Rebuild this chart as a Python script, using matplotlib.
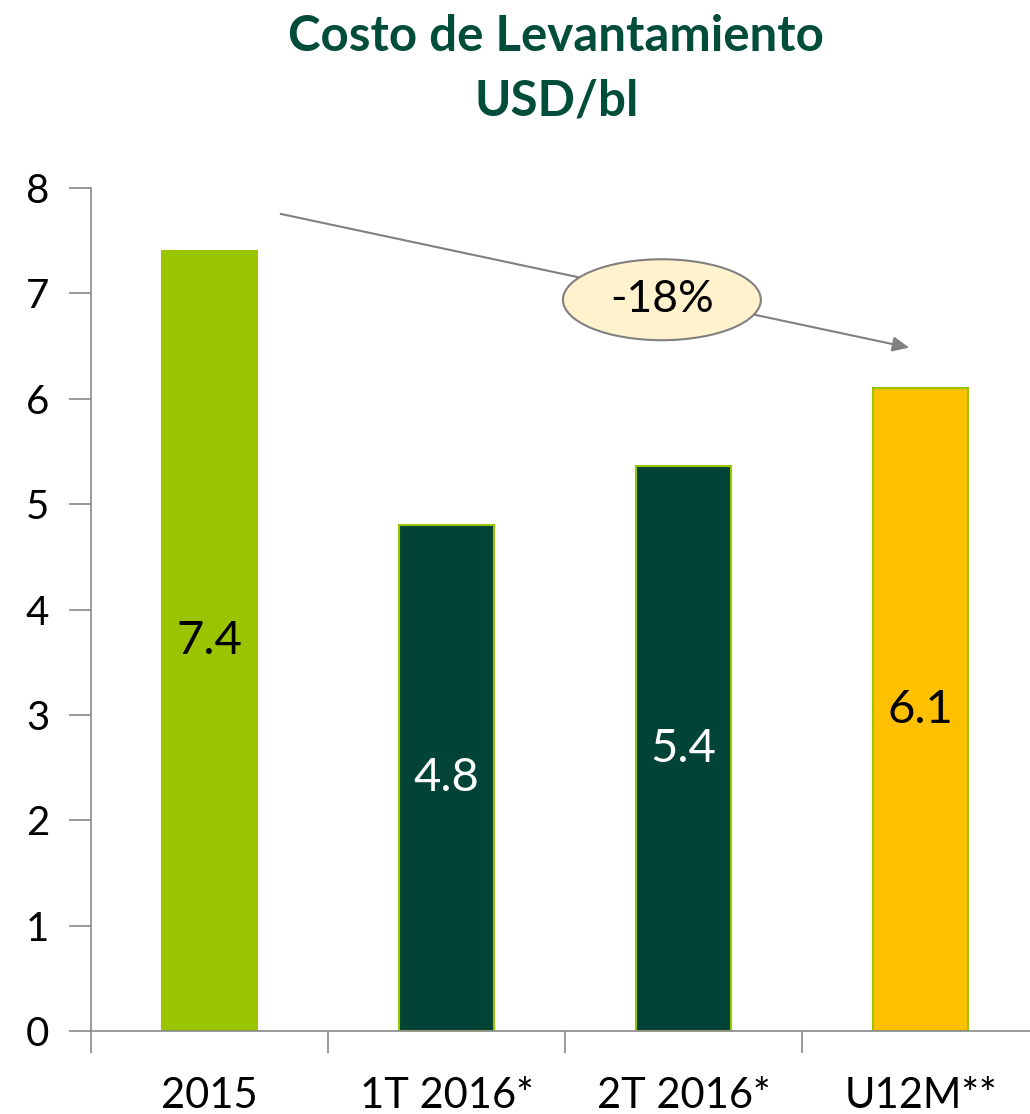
import matplotlib
matplotlib.use("Agg")
import matplotlib.pyplot as plt
from matplotlib.patches import Ellipse

categorias = ["2015", "1T 2016*", "2T 2016*", "U12M**"]
valores = [7.4, 4.8, 5.36, 6.1]
etiquetas = ["7.4", "4.8", "5.4", "6.1"]
colores = ["#9BC400", "#024337", "#024337", "#FFC000"]
bordes = ["#9BC400", "#9BC400", "#9BC400", "#9BC400"]
col_texto = ["black", "white", "white", "black"]
variacion = "-18%"

plt.rcParams["font.family"] = ["Lato", "DejaVu Sans"]

fig = plt.figure(figsize=(10.30, 11.14), dpi=100)
ax = fig.add_axes([0.0883, 0.0745, 0.9204, 0.7567])

x = range(len(categorias))
ax.bar(x, valores, width=0.4, color=colores, edgecolor=bordes, linewidth=1.5, zorder=2)
for i, v in enumerate(valores):
    ax.text(i, v / 2, etiquetas[i], ha="center", va="center", fontsize=34,
            color=col_texto[i], zorder=3)

ax.set_xlim(-0.5, 3.5)
ax.set_ylim(0, 8)
ax.set_yticks(range(0, 9))
ax.set_xticks([i + 0.5 for i in range(-1, 4)], minor=False)
ax.set_xticklabels([])
ax.set_xticks(list(x), minor=True)
ax.set_xticklabels(categorias, minor=True)
ax.tick_params(axis="x", which="minor", length=0, labelsize=30, pad=33)
ax.tick_params(axis="x", which="major", length=16, width=1.2, color="#888888")
ax.tick_params(axis="y", length=16, width=1.2, color="#888888", labelsize=29, pad=14)

for s in ["top", "right"]:
    ax.spines[s].set_visible(False)
for s in ["left", "bottom"]:
    ax.spines[s].set_color("#888888")
    ax.spines[s].set_linewidth(1.2)

# flecha de variación
ax.annotate("", xy=(2.964, 6.48), xytext=(0.289, 7.76),
            arrowprops=dict(arrowstyle="-|>,head_length=1.0,head_width=0.45",
                            color="#808080", lw=1.5), zorder=4)
ax.add_patch(Ellipse((1.909, 6.94), 0.835, 0.768, facecolor="#FFF2CC",
                     edgecolor="#808080", lw=1.5, zorder=5))
ax.text(1.909, 6.94, variacion, ha="center", va="center", fontsize=32, zorder=6)

fig.text(0.54, 0.967, "Costo de Levantamiento", ha="center", va="center",
         fontsize=35.5, fontweight="bold", color="#004D3A")
fig.text(0.54, 0.909, "USD/bl", ha="center", va="center",
         fontsize=35.5, fontweight="bold", color="#004D3A")

fig.savefig("out.png", dpi=100)
